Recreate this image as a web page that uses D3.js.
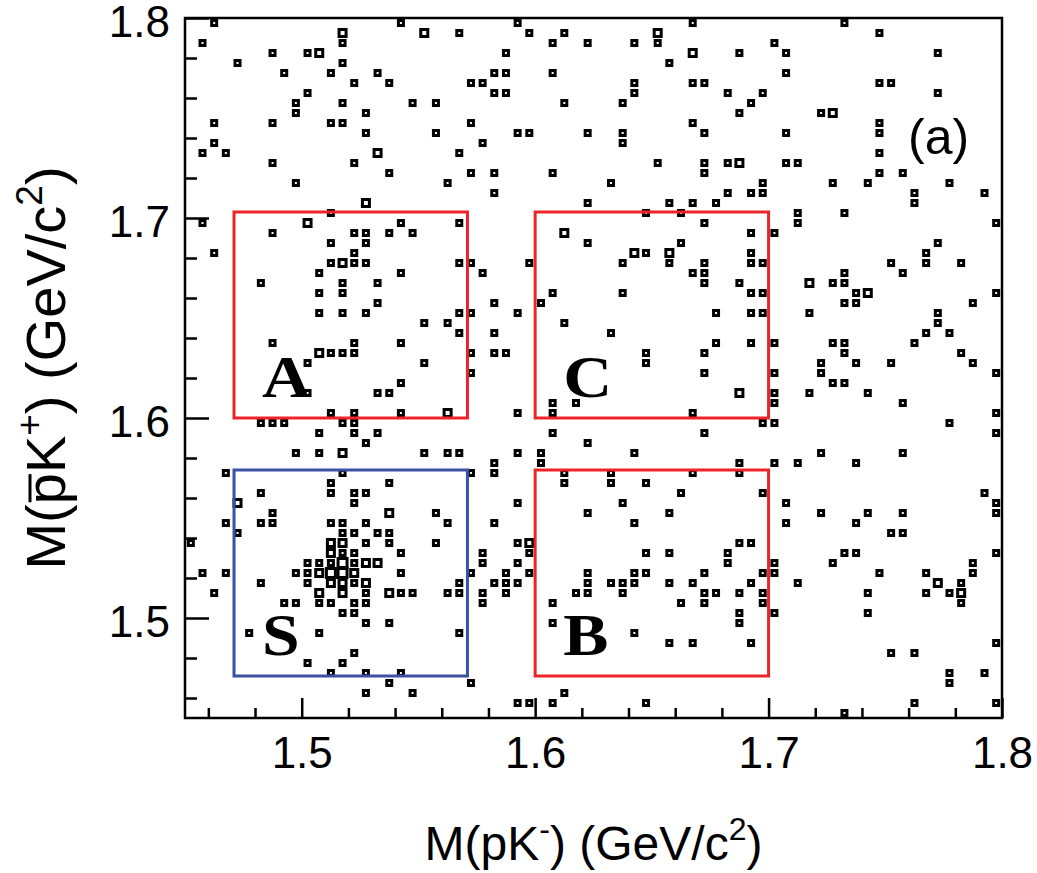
<!DOCTYPE html>
<html>
<head>
<meta charset="utf-8">
<script src="https://cdnjs.cloudflare.com/ajax/libs/d3/7.8.5/d3.min.js"></script>
<style>
  body { margin: 0; background: #fff; }
  text { font-family: "Liberation Sans", Arial, sans-serif; }
</style>
</head>
<body>
<div id="chart"></div>
<script>
// binning of the 2D histogram (GeV/c^2)
const xMin = 1.45, yMax = 1.8, binW = 0.005;

// events per row: row 0 is the top bin (1.795-1.800),
// each entry is the x bin index counted from 1.45; a repeated index = 2 or 3 events in that bin
const rowBins = [
  [2, 18, 28, 43, 56],
  [13, 13, 20, 20, 23, 29, 32, 40, 40, 59],
  [1, 13, 31, 34, 38, 40, 50],
  [7, 10, 11, 11, 27, 43, 43, 47, 51, 64],
  [4, 13, 41],
  [8, 12, 16, 26, 27, 31, 51],
  [14, 17, 24, 25, 38, 43, 44, 59, 60],
  [10, 26, 27, 38, 46, 49, 64],
  [9, 13, 19, 21, 32, 37, 48],
  [9, 15, 47, 54, 55, 55],
  [2, 7, 12, 13, 24, 43, 59],
  [15, 21, 28, 29, 34, 37, 44, 51, 59],
  [2, 25, 37],
  [1, 3, 16, 16, 23, 59],
  [7, 14, 40, 44, 46, 47, 47, 51, 52],
  [17, 24, 26, 31, 44, 59, 61],
  [9, 22, 36, 49, 55, 58, 65],
  [26, 46, 48, 49, 62, 68],
  [15, 15, 34, 41, 43, 45, 62],
  [12, 39, 42, 52, 56],
  [1, 10, 10, 18, 23, 44, 52, 69],
  [7, 14, 15, 17, 19, 32, 32, 48, 50],
  [12, 15, 34, 42, 64],
  [2, 14, 38, 38, 39, 41, 41, 48, 63],
  [12, 13, 13, 14, 15, 23, 24, 29, 37, 41, 44, 48, 49, 60, 63, 66],
  [11, 18, 25, 43, 44, 56, 61],
  [6, 13, 16, 44, 47, 53, 53, 55, 56],
  [11, 13, 31, 37, 48, 49, 57, 58, 58, 69],
  [16, 26, 30, 56, 57, 67],
  [11, 13, 15, 23, 24, 28, 45, 48, 49, 53, 64],
  [20, 22, 32, 64],
  [23, 26, 36, 63, 65],
  [7, 14, 18, 45, 48, 50, 55, 56, 62],
  [11, 11, 12, 13, 14, 24, 26, 27, 39, 44, 56, 66],
  [10, 20, 39, 54, 57, 60, 67],
  [24, 44, 50, 54, 69],
  [18, 55, 56],
  [10, 16, 17, 47, 47, 50, 53, 58],
  [31, 33, 50, 61],
  [12, 14, 18, 22, 22, 28, 31, 43, 69],
  [6, 7, 8, 13, 14, 49, 50, 65],
  [11, 14, 16, 31, 44, 69],
  [15, 34],
  [9, 11, 13, 13, 20, 22, 23, 28, 30, 38, 54, 61],
  [26, 30, 47, 50, 52, 57],
  [3, 13, 24, 26, 32, 36, 43, 47],
  [12, 17, 32, 36, 39],
  [6, 12, 14, 15, 42, 49, 68],
  [4, 4, 14, 28, 37, 51, 69],
  [7, 17, 17, 21, 34, 41, 54, 58, 61, 69],
  [3, 6, 7, 12, 13, 15, 22, 26, 38, 51, 57],
  [4, 13, 14, 16, 17, 60, 61],
  [0, 12, 12, 13, 13, 15, 17, 21, 28, 29, 29, 47, 48],
  [12, 12, 13, 14, 18, 25, 29, 39, 41, 46, 56, 57, 69],
  [10, 11, 12, 13, 13, 13, 14, 15, 15, 16, 16, 25, 28, 46, 50, 55, 67],
  [1, 3, 9, 10, 11, 11, 12, 12, 12, 13, 13, 13, 14, 14, 18, 24, 27, 29, 34, 38, 39, 44, 49, 50, 59, 63, 67],
  [6, 10, 12, 12, 13, 13, 14, 15, 15, 23, 26, 27, 28, 34, 36, 37, 38, 41, 43, 48, 52, 64, 64, 66],
  [2, 11, 11, 13, 13, 15, 17, 17, 18, 19, 22, 23, 25, 27, 33, 34, 37, 44, 45, 47, 49, 58, 63, 65, 66, 66],
  [8, 9, 11, 12, 14, 15, 25, 31, 42, 44, 49, 66],
  [13, 14, 47, 50, 58],
  [15, 17, 31, 47],
  [5, 11, 23, 38],
  [41, 43, 48, 69],
  [14, 60, 62],
  [10, 13],
  [12, 15, 18, 65, 68],
  [17, 24, 65],
  [15, 19, 32],
  [28, 29, 31, 39, 62, 69],
  [56]
];

// axis ticks
const majorTicks = [1.5, 1.6, 1.7, 1.8];
const minorTicks = [1.46, 1.48, 1.52, 1.54, 1.56, 1.58, 1.62, 1.64, 1.66, 1.68, 1.72, 1.74, 1.76, 1.78];

// selection windows
const regionNames = ["A", "C", "S", "B"];
const regionX = [[1.471, 1.571], [1.600, 1.700], [1.471, 1.571], [1.600, 1.700]];
const regionY = [[1.600, 1.703], [1.600, 1.703], [1.471, 1.574], [1.471, 1.574]];
const regionColors = ["#ec2329", "#ec2329", "#3a52a3", "#ec2329"];

// set the dimensions and margins of the graph
const margin = { top: 18, right: 35, bottom: 155, left: 185 },
    width = 1037 - margin.left - margin.right,
    height = 873 - margin.top - margin.bottom;

const svg = d3.select("#chart")
    .append("svg")
    .attr("width", width + margin.left + margin.right)
    .attr("height", height + margin.top + margin.bottom)
    .append("g")
    .attr("transform", `translate(${margin.left}, ${margin.top})`);

const x = d3.scaleLinear().domain([1.45, 1.8]).range([0, width]);
const y = d3.scaleLinear().domain([1.45, 1.8]).range([height, 0]);

// bin contents
const cells = [];
rowBins.forEach((row, j) => {
    d3.rollup(row, v => v.length, d => d).forEach((n, ix) => {
        cells.push({
            mx: xMin + (ix + 0.5) * binW,
            my: yMax - (j + 0.5) * binW,
            n: n
        });
    });
});

const boxSize = d3.scaleLinear().domain([1, 3]).range([5, 9]);

svg.append("g")
    .selectAll("rect")
    .data(cells)
    .join("rect")
    .attr("x", d => x(d.mx) - boxSize(d.n) / 2)
    .attr("y", d => y(d.my) - boxSize(d.n) / 2)
    .attr("width", d => boxSize(d.n))
    .attr("height", d => boxSize(d.n))
    .style("fill", "white")
    .style("stroke", "black")
    .style("stroke-width", 3);

// region boxes
svg.append("g")
    .selectAll("rect")
    .data(regionNames)
    .join("rect")
    .attr("x", (d, i) => x(regionX[i][0]))
    .attr("y", (d, i) => y(regionY[i][1]))
    .attr("width", (d, i) => x(regionX[i][1]) - x(regionX[i][0]))
    .attr("height", (d, i) => y(regionY[i][0]) - y(regionY[i][1]))
    .style("fill", "none")
    .style("stroke", (d, i) => regionColors[i])
    .style("stroke-width", 3);

// region letters, slightly stretched like the bold extended face of the original
svg.append("g")
    .selectAll("text")
    .data(regionNames)
    .join("text")
    .attr("transform", (d, i) => `translate(${x(regionX[i][0]) + 28}, ${y(regionY[i][0]) - 21}) scale(1.13, 1)`)
    .style("font-family", "'Liberation Serif', 'DejaVu Serif', serif")
    .style("font-weight", "bold")
    .style("font-size", "60px")
    .text(d => d);

// axes: labels on the major ticks, ticks drawn inward
function tickAxis(axis, g, vals, size) {
    g.call(axis.tickValues(vals).tickSize(size).tickFormat(""))
        .call(s => s.select(".domain").remove())
        .selectAll("line").style("stroke-width", 2.5);
}

tickAxis(d3.axisBottom(x), svg.append("g").attr("transform", `translate(0, ${height})`), majorTicks, -20);
tickAxis(d3.axisBottom(x), svg.append("g").attr("transform", `translate(0, ${height})`), minorTicks, -10);
tickAxis(d3.axisLeft(y), svg.append("g"), majorTicks, -24);
tickAxis(d3.axisLeft(y), svg.append("g"), minorTicks, -12);

svg.append("g")
    .attr("transform", `translate(0, ${height})`)
    .style("font-size", "44px")
    .call(d3.axisBottom(x).tickValues(majorTicks).tickSize(0).tickPadding(19).tickFormat(d3.format(".1f")))
    .call(g => g.select(".domain").remove())
    .selectAll("text")
    .style("fill", "black")
    .style("font-family", "'Liberation Sans', Arial, sans-serif");

svg.append("g")
    .style("font-size", "44px")
    .call(d3.axisLeft(y).tickValues(majorTicks).tickSize(0).tickPadding(15).tickFormat(d3.format(".1f")))
    .call(g => g.select(".domain").remove())
    .selectAll("text")
    .attr("dy", "0.42em")
    .style("fill", "black")
    .style("font-family", "'Liberation Sans', Arial, sans-serif");

// frame
svg.append("rect")
    .attr("width", width)
    .attr("height", height)
    .style("fill", "none")
    .style("stroke", "black")
    .style("stroke-width", 2.5);

// axis titles
const xTitle = svg.append("text")
    .attr("x", width / 2)
    .attr("y", height + 142)
    .attr("text-anchor", "middle")
    .style("font-size", "48px");
xTitle.append("tspan").text("M(pK");
xTitle.append("tspan").attr("dy", -20).style("font-size", "32px").text("-");
xTitle.append("tspan").attr("dy", 20).text(") (GeV/c");
xTitle.append("tspan").attr("dy", -20).style("font-size", "32px").text("2");
xTitle.append("tspan").attr("dy", 20).text(")");

const yTitleG = svg.append("g")
    .attr("transform", `translate(${-120}, ${height / 2}) rotate(-90)`);
const yTitle = yTitleG.append("text")
    .attr("text-anchor", "middle")
    .style("font-size", "56px");
yTitle.append("tspan").text("M(");
yTitle.append("tspan").text("p");
yTitle.append("tspan").text("K");
yTitle.append("tspan").attr("dy", -23).style("font-size", "37px").text("+");
yTitle.append("tspan").attr("dy", 23).text(") (GeV/c");
yTitle.append("tspan").attr("dy", -23).style("font-size", "37px").text("2");
yTitle.append("tspan").attr("dy", 23).text(")");

// bar over the antiproton p (character index 2)
const pStart = yTitle.node().getStartPositionOfChar(2);
const pEnd = yTitle.node().getEndPositionOfChar(2);
yTitleG.append("line")
    .attr("x1", pStart.x + 2)
    .attr("x2", pEnd.x - 1)
    .attr("y1", -35)
    .attr("y2", -35)
    .style("stroke", "black")
    .style("stroke-width", 3);

// panel label
svg.append("text")
    .attr("x", width - 94)
    .attr("y", 136)
    .style("font-size", "50px")
    .text("(a)");
</script>
</body>
</html>
